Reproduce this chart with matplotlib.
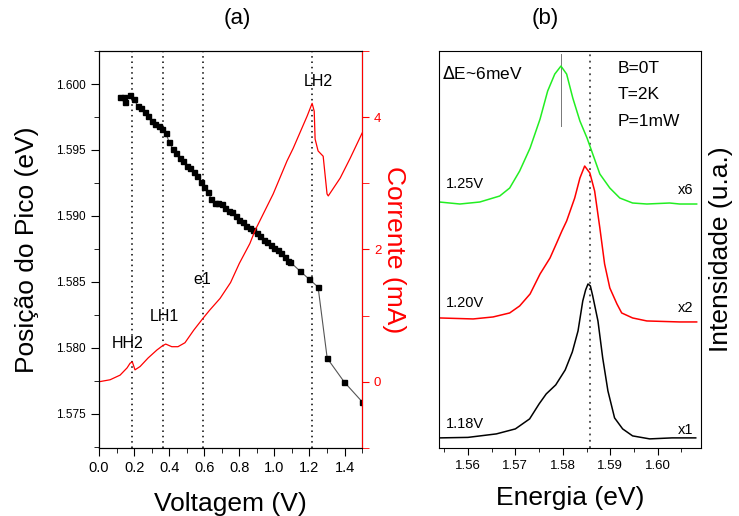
import matplotlib

matplotlib.use("Agg")
import matplotlib.pyplot as plt
from matplotlib.ticker import MultipleLocator

plt.rcParams["font.family"] = ["Liberation Sans", "DejaVu Sans"]

# panel (a): peak position vs voltage
volt = [0.12, 0.14, 0.15, 0.175, 0.20, 0.22, 0.24, 0.26, 0.28, 0.30, 0.32, 0.34, 0.36, 0.38,
        0.40, 0.42, 0.44, 0.46, 0.48, 0.50, 0.52, 0.54, 0.56, 0.58, 0.60, 0.62, 0.64, 0.66,
        0.68, 0.70, 0.72, 0.74, 0.76, 0.78, 0.80, 0.82, 0.84, 0.86, 0.88, 0.90, 0.92, 0.94,
        0.96, 0.98, 1.00, 1.02, 1.04, 1.06, 1.08, 1.09, 1.147, 1.198, 1.249, 1.301, 1.398, 1.50]
peak = [1.5990, 1.5990, 1.5986, 1.5992, 1.5989, 1.5983, 1.5982, 1.5979, 1.5976, 1.5972,
        1.5970, 1.5968, 1.5966, 1.5963, 1.5956, 1.5951, 1.5948, 1.5944, 1.5942, 1.5938,
        1.5936, 1.5933, 1.5930, 1.5926, 1.5922, 1.5918, 1.5913, 1.5910, 1.5910, 1.5909,
        1.5906, 1.5904, 1.5903, 1.5900, 1.5897, 1.5895, 1.5892, 1.5891, 1.5889, 1.5887,
        1.5885, 1.5882, 1.5880, 1.5878, 1.5876, 1.5874, 1.5872, 1.5869, 1.5866, 1.5865,
        1.5858, 1.5852, 1.5846, 1.5792, 1.5774, 1.5759]

# current vs voltage
iv_volt = [0.0, 0.063, 0.12, 0.16, 0.177, 0.19, 0.205, 0.234, 0.28, 0.33, 0.36, 0.38, 0.415,
           0.45, 0.49, 0.54, 0.59, 0.63, 0.69, 0.75, 0.80, 0.86, 0.89, 0.993, 1.072, 1.107,
           1.187, 1.215, 1.227, 1.232, 1.249, 1.278, 1.30, 1.307, 1.375, 1.432, 1.50]
current = [0.0, 0.03, 0.10, 0.21, 0.28, 0.30, 0.18, 0.23, 0.36, 0.48, 0.54, 0.57, 0.53,
           0.53, 0.59, 0.78, 0.95, 1.08, 1.26, 1.50, 1.79, 2.09, 2.29, 2.84, 3.34, 3.53,
           4.02, 4.21, 4.09, 3.67, 3.49, 3.41, 2.84, 2.81, 3.08, 3.38, 3.76]

marker_volts = [0.19, 0.365, 0.59, 1.215]
feature_labels = ["HH2", "LH1", "e1", "LH2"]
feature_pos = [(0.165, 1.5803), (0.371, 1.58235), (0.588, 1.58515), (1.249, 1.60023)]

# panel (b): PL spectra (arbitrary units, offset)
e_118 = [1.5540, 1.5600, 1.5660, 1.5700, 1.5730, 1.5750, 1.5765, 1.5785, 1.5805, 1.5820,
         1.5832, 1.5842, 1.5848, 1.5853, 1.5858, 1.5863, 1.5874, 1.5884, 1.5895, 1.5909,
         1.5926, 1.5947, 1.5983, 1.6030, 1.6080]
i_118 = [10, 10.5, 14, 19, 29, 44, 54, 63, 78, 96, 117, 147, 158, 164, 162, 152, 127, 90,
         57, 30, 19, 12, 9, 10, 10]
e_120 = [1.5540, 1.5611, 1.5653, 1.5688, 1.5709, 1.5731, 1.5752, 1.5773, 1.5787, 1.5798,
         1.5808, 1.5825, 1.5836, 1.5846, 1.5857, 1.5867, 1.5878, 1.5888, 1.5899, 1.5914,
         1.5924, 1.5947, 1.5977, 1.6046, 1.6082]
i_120 = [130, 129, 131, 135, 142, 154, 174, 190, 205, 217, 227, 250, 270, 282, 275, 257,
         220, 184, 160, 144, 135, 130, 127, 126, 126]
e_125 = [1.5540, 1.5583, 1.5625, 1.5667, 1.5688, 1.5709, 1.5731, 1.5752, 1.5768, 1.5783,
         1.5796, 1.5808, 1.5821, 1.5836, 1.5851, 1.5863, 1.5878, 1.5899, 1.5920, 1.5947,
         1.5977, 1.6025, 1.6046, 1.6082]
i_125 = [246, 244, 246, 252, 260, 277, 300, 329, 357, 374, 382, 374, 350, 327, 310, 294,
         274, 260, 250, 245, 244, 245, 244, 244]

fig = plt.figure(figsize=(7.39, 5.16), dpi=100)

ax1 = fig.add_axes([0.134, 0.132, 0.356, 0.769])
ax2 = ax1.twinx()
for v in marker_volts:
    ax1.axvline(v, color="black", linestyle=(0, (1, 2.5)), lw=1.1)
ax1.plot(volt, peak, color="#555555", lw=0.8, marker="s", ms=3.6, mfc="black", mec="black", zorder=3)
ax2.plot(iv_volt, current, color="red", lw=0.9)
for lab, (x, y) in zip(feature_labels, feature_pos):
    ax1.text(x, y, lab, ha="center", va="center", fontsize=11.5)

ax1.set_xlim(0, 1.5)
ax1.set_ylim(1.5724, 1.6025)
ax2.set_ylim(-1, 5)
ax1.xaxis.set_major_locator(MultipleLocator(0.2))
ax1.xaxis.set_minor_locator(MultipleLocator(0.1))
ax1.yaxis.set_major_locator(MultipleLocator(0.005))
ax1.yaxis.set_minor_locator(MultipleLocator(0.0025))
ax1.yaxis.set_major_formatter(plt.FormatStrFormatter("%.3f"))
ax2.yaxis.set_major_locator(MultipleLocator(2))
ax2.yaxis.set_minor_locator(MultipleLocator(1))
ax1.tick_params(axis="x", which="major", labelsize=10.5, length=6, direction="out")
ax1.tick_params(axis="x", which="minor", length=3.5, direction="out")
ax1.tick_params(axis="y", which="major", labelsize=8.5, length=6)
ax1.tick_params(axis="y", which="minor", length=3.5)
ax2.tick_params(axis="y", which="both", colors="red", labelsize=9.5, length=5)
ax2.spines["right"].set_color("red")
ax1.set_xlabel("Voltagem (V)", fontsize=19, labelpad=12)
ax1.set_ylabel("Posição do Pico (eV)", fontsize=19, labelpad=12)
ax2.set_ylabel("Corrente (mA)", fontsize=19, color="red", rotation=270, labelpad=18)

ax3 = fig.add_axes([0.594, 0.132, 0.3545, 0.769])
ax3.axvline(1.5857, color="#444444", linestyle=(0, (1, 2.5)), lw=1.3)
ax3.plot([1.5797, 1.5797], [322, 394], color="#777777", lw=0.7)
ax3.plot(e_125, i_125, color="#22ee22", lw=1.1)
ax3.plot(e_120, i_120, color="red", lw=1.1)
ax3.plot(e_118, i_118, color="black", lw=1.1)
ax3.set_xlim(1.5539, 1.6091)
ax3.set_ylim(0, 397)
ax3.xaxis.set_major_locator(MultipleLocator(0.01))
ax3.xaxis.set_minor_locator(MultipleLocator(0.005))
ax3.xaxis.set_major_formatter(plt.FormatStrFormatter("%.2f"))
ax3.tick_params(axis="x", which="major", labelsize=9.5, length=5)
ax3.tick_params(axis="x", which="minor", length=3)
ax3.set_yticks([])
ax3.yaxis.set_label_position("right")
ax3.set_ylabel("Intensidade (u.a.)", fontsize=19, rotation=90, labelpad=6)
ax3.set_xlabel("Energia (eV)", fontsize=19, labelpad=10)

ax3.text(1.5545, 375, r"$\Delta$E~6meV", fontsize=12.5, va="center")
for txt, y in zip(["B=0T", "T=2K", "P=1mW"], [380, 354, 327]):
    ax3.text(1.5916, y, txt, fontsize=12.5, va="center")
for txt, y in zip(["1.25V", "1.20V", "1.18V"], [264, 145, 24]):
    ax3.text(1.5554, y, txt, fontsize=10.5, va="center")
for txt, y in zip(["x6", "x2", "x1"], [258, 140, 18]):
    ax3.text(1.6075, y, txt, fontsize=10.5, va="center", ha="right")

fig.text(0.321, 0.965, "(a)", fontsize=16, ha="center", va="center")
fig.text(0.738, 0.965, "(b)", fontsize=16, ha="center", va="center")

fig.savefig("out.png", dpi=100)
